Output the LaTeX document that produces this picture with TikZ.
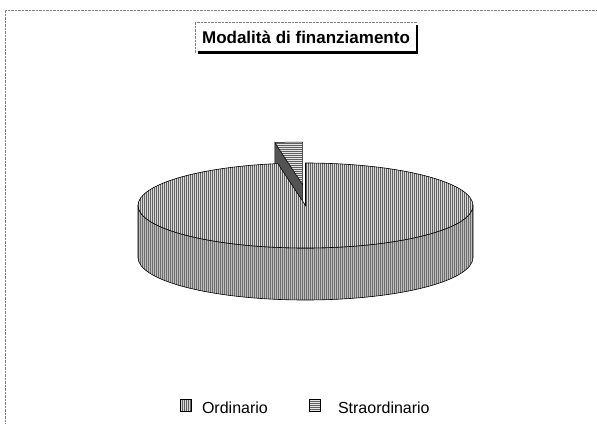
\documentclass[tikz,border=0pt]{standalone}
\usepackage{fontspec}
\setmainfont{Liberation Sans}
\usetikzlibrary{patterns.meta}
\tikzset{
  ordtop/.style={preaction={fill=gray!30}, pattern={Lines[angle=90,distance=2pt,line width=0.5pt]}, pattern color=gray!75!black},
  ordside/.style={preaction={fill=gray!50}, pattern={Lines[angle=90,distance=2pt,line width=0.6pt]}, pattern color=gray!85!black},
  strtop/.style={preaction={fill=gray!20}, pattern={Lines[angle=0,distance=2pt,line width=0.5pt]}, pattern color=gray!75!black},
  keybox/.style={draw, minimum width=11pt, minimum height=12pt, inner sep=0pt},
  keytext/.style={anchor=base west, font=\fontsize{16}{18}\selectfont}
}
\begin{document}
\begin{tikzpicture}[x=1pt,y=-1pt]
  \useasboundingbox (0,0) rectangle (597,423);
  \draw[gray, densely dotted] (5,423) -- (5,10) -- (597,10);
  \node[font=\bfseries\fontsize{17}{20}\selectfont, minimum width=222pt, minimum height=30pt, inner sep=0pt] (title) at (306,37.5) {Modalità di finanziamento};
  \draw[gray, densely dotted] (title.south west) -- (title.north west) -- (title.north east);
  \draw[line width=2.5pt] ([yshift=-3pt]title.north east) -- (title.south east) -- ([xshift=3pt]title.south west);
  \begin{scope}[shift={(-3,-21)}, line width=0.5pt]
    \draw[fill=gray!65!black] (305.5,205.5) -- ++(260.5:167.5 and 42.5) -- ++(0,52) -- (305.5,257.5) -- cycle;
    \draw[strtop] (305.5,205.5) -- ++(260.5:167.5 and 42.5)
      arc[start angle=260.5, end angle=270, x radius=167.5, y radius=42.5] -- cycle;
  \end{scope}
  \begin{scope}[line width=0.6pt]
    \draw[ordside] (473,205.5) -- (473,257.5)
      arc[start angle=0, end angle=180, x radius=167.5, y radius=42.5] -- (138,205.5)
      arc[start angle=180, end angle=0, x radius=167.5, y radius=42.5] -- cycle;
    \draw[ordtop] (305.5,205.5) -- (305.5,163)
      arc[start angle=270, end angle=620.5, x radius=167.5, y radius=42.5] -- cycle;
  \end{scope}
  \node[keybox, ordtop] (ordkey) at (186,405.5) {};
  \node[keytext] (ordtext) at (198.5,413) {Ordinario};
  \node[keybox, strtop] (strkey) at (315,405.5) {};
  \node[keytext] (strtext) at (334.5,413) {Straordinario};
\end{tikzpicture}
\end{document}
